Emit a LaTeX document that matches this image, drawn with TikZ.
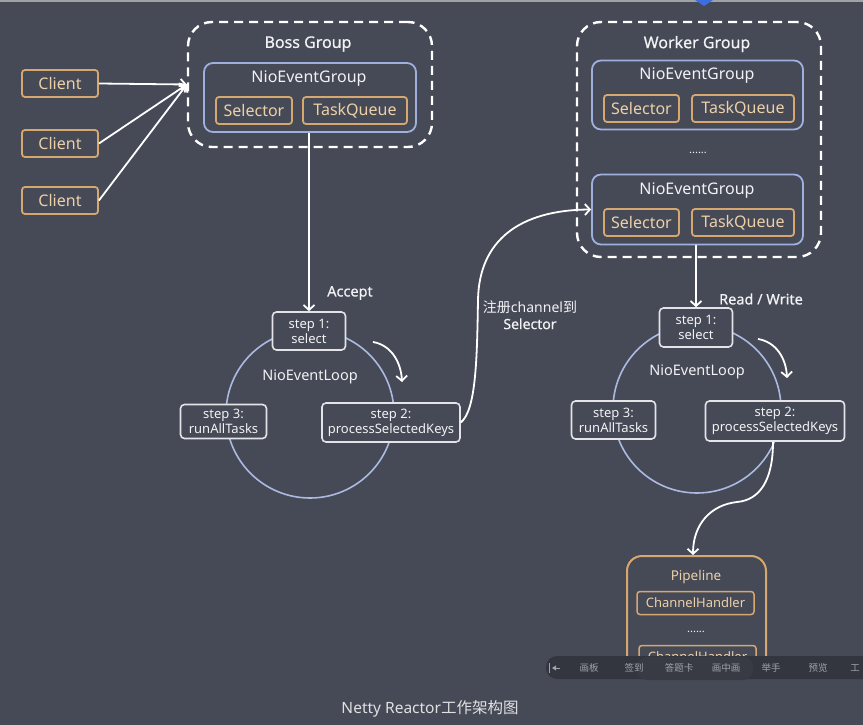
\documentclass[tikz,border=0pt]{standalone}
\usepackage{fontspec}
\setmainfont{Noto Sans}
\newfontfamily\cjk{Noto Sans CJK SC}
\newfontfamily\heavier[FakeBold=0.6]{Noto Sans}
\usetikzlibrary{arrows.meta}

\definecolor{bgslate}{RGB}{70,74,86}
\definecolor{orangeedge}{RGB}{214,168,112}
\definecolor{orangetext}{RGB}{236,208,168}
\definecolor{blueedge}{RGB}{160,176,222}
\definecolor{circedge}{RGB}{172,186,226}
\definecolor{stepedge}{RGB}{228,228,232}
\definecolor{inktext}{RGB}{242,242,244}
\definecolor{topline}{RGB}{160,162,168}
\definecolor{accentblue}{RGB}{62,110,222}
\definecolor{toolbar}{RGB}{51,54,62}
\definecolor{toolpill}{RGB}{56,59,68}
\definecolor{tooltext}{RGB}{160,163,172}

\newcommand{\fsz}[1]{\fontsize{#1}{#1}\selectfont}

\begin{document}
\begin{tikzpicture}[x=1pt,y=-1pt,
  orangebox/.style={draw=orangeedge, line width=1.8pt, rounded corners=3pt,
    fill=bgslate, text=orangetext, font=\fsz{16}, inner sep=0pt},
  groupbox/.style={draw=blueedge, line width=1.8pt, rounded corners=9pt, inner sep=0pt},
  dashbox/.style={draw=white, line width=2.4pt, dash pattern=on 9pt off 6pt,
    rounded corners=24pt, inner sep=0pt},
  stepbox/.style={draw=stepedge, line width=1.6pt, rounded corners=4pt, fill=bgslate,
    text=inktext, align=center, font=\fontsize{13}{15}\selectfont, inner sep=0pt},
  loopring/.style={circle, draw=circedge, line width=1.6pt, inner sep=0pt, minimum size=168pt},
  label/.style={text=inktext, inner sep=0pt},
  flow/.style={draw=white, line width=1.8pt, -{Straight Barb[length=5pt,width=11pt]}},
  toollabel/.style={text=tooltext, font=\cjk\fsz{9.5}, inner sep=0pt}
]
\fill[bgslate] (0,0) rectangle (863,725);
\useasboundingbox (0,0) rectangle (863,725);

% top strip of the window
\fill[topline] (0,0) rectangle (863,2.5);
\fill[accentblue] (695,0) -- (713,0) -- (704,6) -- cycle;

% clients
\node[orangebox, minimum width=76pt, minimum height=27pt] (c1) at (60,83.5) {Client};
\node[orangebox, minimum width=76pt, minimum height=27pt] (c2) at (60,143.5) {Client};
\node[orangebox, minimum width=76pt, minimum height=27pt] (c3) at (60,200.5) {Client};

% boss group
\node[dashbox, minimum width=244pt, minimum height=125pt] (boss) at (310,84.5) {};
\node[label, font=\heavier\fsz{16}] (bosst) at (308,44) {Boss Group};
\node[groupbox, minimum width=212pt, minimum height=69pt] (bneg) at (310,97.5) {};
\node[label, font=\fsz{16}] (bnegt) at (309,79) {NioEventGroup};
\node[orangebox, minimum width=76pt, minimum height=27pt] (bsel) at (254,110.5) {Selector};
\node[orangebox, minimum width=104pt, minimum height=27pt] (btq) at (355,110.5) {TaskQueue};

\draw[flow] (c1.east) -- (boss.west);
\draw[flow] (c2.east) -- (boss.west);
\draw[flow] (c3.east) -- (boss.west);

% worker group
\node[dashbox, minimum width=244pt, minimum height=235pt] (worker) at (699,139.5) {};
\node[label, font=\heavier\fsz{16}] (workert) at (697,44) {Worker Group};
\node[groupbox, minimum width=211pt, minimum height=69pt] (wneg1) at (697.5,95) {};
\node[label, font=\fsz{16}] (wneg1t) at (697,76) {NioEventGroup};
\node[orangebox, minimum width=75pt, minimum height=27pt] (wsel1) at (641.5,108.5) {Selector};
\node[orangebox, minimum width=102pt, minimum height=27pt] (wtq1) at (743,108.5) {TaskQueue};
\node[label, font=\fsz{11}] (wdots) at (698,153) {......};
\node[groupbox, minimum width=211pt, minimum height=70pt] (wneg2) at (697.5,209.5) {};
\node[label, font=\fsz{16}] (wneg2t) at (697,191) {NioEventGroup};
\node[orangebox, minimum width=75pt, minimum height=27pt] (wsel2) at (641.5,222.5) {Selector};
\node[orangebox, minimum width=102pt, minimum height=27pt] (wtq2) at (743,222.5) {TaskQueue};

% boss event loop
\node[loopring] (bloop) at (310,414) {};
\node[label, font=\fsz{14.5}] (bloopt) at (310,377) {NioEventLoop};
\node[stepbox, minimum width=73pt, minimum height=38pt] (bs1) at (309,331) {step 1:\\select};
\node[stepbox, minimum width=86pt, minimum height=34pt] (bs3) at (223.5,421.5) {step 3:\\runAllTasks};
\node[stepbox, minimum width=138pt, minimum height=39pt] (bs2) at (391,422.5) {step 2:\\processSelectedKeys};
\draw[flow] (bs1.north |- bneg.south) -- (bs1.north);
\node[label, font=\heavier\fsz{14.5}] (acc) at (350,293) {Accept};
\coordinate (ba0) at (373,342);
\coordinate (ba1) at (402,382);
\draw[flow] (ba0) .. controls (391,345) and (401,362) .. (ba1);

% worker event loop
\node[loopring] (wloop) at (697,409) {};
\node[label, font=\fsz{14.5}] (wloopt) at (697,372) {NioEventLoop};
\node[stepbox, minimum width=73pt, minimum height=39pt] (ws1) at (696,327.5) {step 1:\\select};
\node[stepbox, minimum width=84pt, minimum height=38pt] (ws3) at (613.5,420) {step 3:\\runAllTasks};
\node[stepbox, minimum width=139pt, minimum height=40pt] (ws2) at (775,421) {step 2:\\processSelectedKeys};
\draw[flow] (ws1.north |- wneg2.south) -- (ws1.north);
\node[label, font=\heavier\fsz{14.5}] (rw) at (761,299) {Read / Write};
\coordinate (wa0) at (758,339);
\coordinate (wa1) at (787,378);
\draw[flow] (wa0) .. controls (776,342) and (786,358) .. (wa1);

% registering the channel with the worker selector
\draw[flow] (bs2.east) .. controls (476,410) and (477,360) .. (478,300)
  .. controls (479,240) and (520,210) .. (wneg2.west);
\node[label, align=center, font=\fontsize{14}{16.5}\selectfont] (reg) at (530,315)
  {{\cjk 注册}channel{\cjk 到}\\{\heavier Selector}};

% pipeline
\node[draw=orangeedge, line width=2pt, rounded corners=15pt, minimum width=139pt,
  minimum height=118pt, inner sep=0pt] (pipe) at (696.5,615) {};
\node[label, text=orangetext, font=\fsz{13.5}] (pipet) at (696,577) {Pipeline};
\node[orangebox, font=\fsz{13}, line width=1.5pt, minimum width=117pt, minimum height=23pt] (ch1) at (695.5,603) {ChannelHandler};
\node[label, font=\fsz{11}] (pdots) at (696,632) {......};
\node[orangebox, font=\fsz{13}, line width=1.5pt, minimum width=117pt, minimum height=23pt] (ch2) at (697.5,657) {ChannelHandler};
\draw[flow] (ws2.south -| 773,0) .. controls (773,480) and (760,500) .. (737,502)
  .. controls (710,505) and (693,525) .. (pipe.north -| 693,0);

% toolbar overlay
\fill[toolbar, rounded corners=11pt] (546,656) rectangle (890,679);
\fill[toolpill, rounded corners=10pt] (637,657) rectangle (753,680);
\draw[tooltext, line width=1pt] (549,663) -- (549,673);
\fill[tooltext] (552,668) -- (556,665.5) -- (556,670.5) -- cycle;
\draw[tooltext, line width=0.8pt] (556,668) -- (560,668);
\node[toollabel] (t1) at (589,668) {画板};
\node[toollabel] (t2) at (634,668) {签到};
\node[toollabel] (t3) at (679,668) {答题卡};
\node[toollabel] (t4) at (726,668) {画中画};
\node[toollabel] (t5) at (771,668) {举手};
\node[toollabel] (t6) at (818,668) {预览};
\node[toollabel] (t7) at (855,668) {工};

% caption
\node[label, text=inktext!90!bgslate, font=\fsz{15.5}] (title) at (430,709)
  {Netty Reactor{\cjk 工作架构图}};
\end{tikzpicture}
\end{document}
